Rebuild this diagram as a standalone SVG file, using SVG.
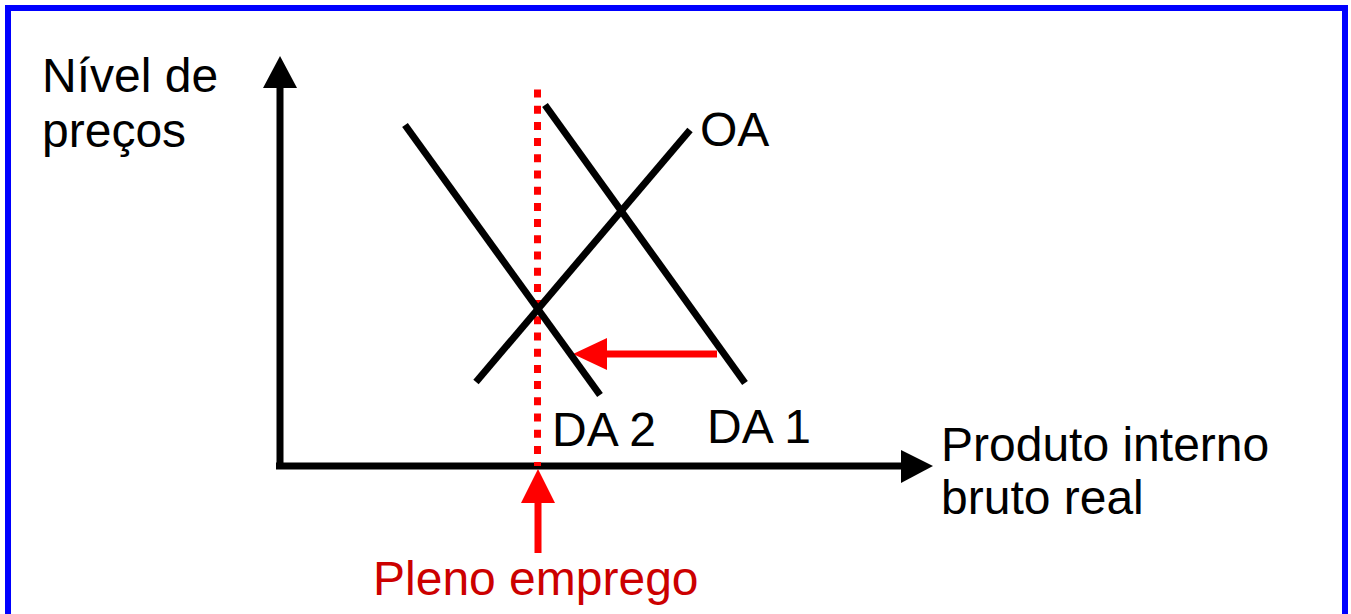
<svg xmlns="http://www.w3.org/2000/svg" width="1351" height="614" viewBox="0 0 1351 614">
<style>
.t{font-family:"Liberation Sans",Arial,sans-serif;font-size:48px;fill:#000}
.r{fill:#CC0000}
.curve{stroke:#000;stroke-width:7;fill:none}
</style>
<rect x="0" y="0" width="1351" height="614" fill="#fff"/>
<rect id="frame" x="8" y="8" width="1337" height="640" fill="none" stroke="#0000FF" stroke-width="6"/>
<g id="connectors">
<line x1="280" y1="466" x2="280" y2="86" stroke="#000" stroke-width="7"/>
<polygon points="280,56 263,88 297,88" fill="#000"/>
<line x1="276" y1="466" x2="903" y2="466" stroke="#000" stroke-width="7"/>
<polygon points="933,466 901,450 901,483" fill="#000"/>
<line x1="537.5" y1="89.5" x2="537.5" y2="466" stroke="#FF0000" stroke-width="7" stroke-dasharray="8,8.2"/>
<line x1="717" y1="354" x2="605" y2="354" stroke="#FF0000" stroke-width="7"/>
<polygon points="573,354 607,338 607,370" fill="#FF0000"/>
<line x1="538" y1="553" x2="538" y2="501" stroke="#FF0000" stroke-width="7"/>
<polygon points="538,469 521,503 555,503" fill="#FF0000"/>
</g>
<g id="DA2"><line class="curve" x1="405" y1="125" x2="600" y2="395"/><text class="t" x="552" y="446">DA 2</text></g>
<g id="DA1"><line class="curve" x1="545" y1="105" x2="745" y2="383"/><text class="t" x="707" y="443">DA 1</text></g>
<g id="OA"><line class="curve" x1="476" y1="382" x2="690" y2="130"/><text class="t" x="700" y="146">OA</text></g>
<g id="ylabel"><text class="t" x="42" y="92">Nível de</text><text class="t" x="42" y="147">preços</text></g>
<g id="xlabel"><text class="t" x="941" y="461">Produto interno</text><text class="t" x="941" y="514">bruto real</text></g>
<g id="pleno"><text class="t r" x="373" y="595">Pleno emprego</text></g>
</svg>
